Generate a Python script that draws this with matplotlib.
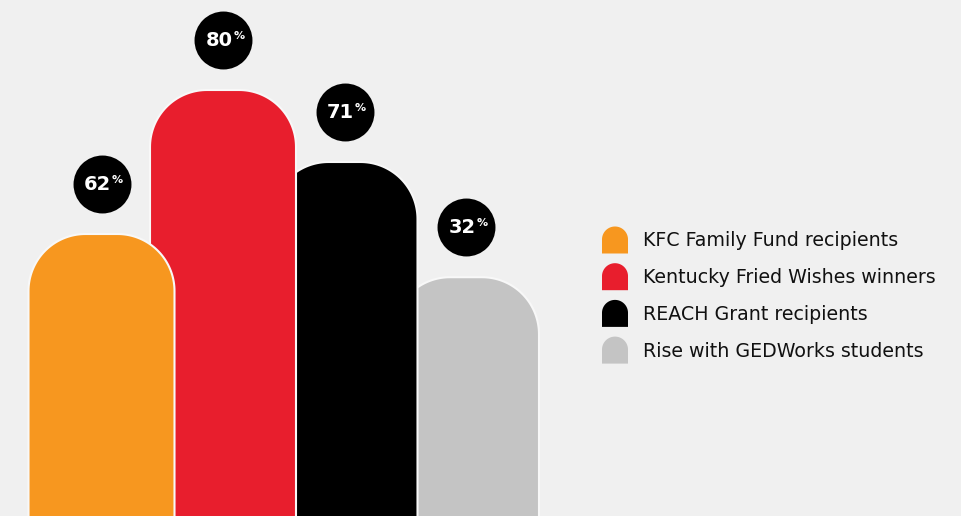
import numpy as np
import matplotlib
matplotlib.use('Agg')
import matplotlib.pyplot as plt
from matplotlib.path import Path
from matplotlib.patches import PathPatch

labels = ['KFC Family Fund recipients', 'Kentucky Fried Wishes winners',
          'REACH Grant recipients', 'Rise with GEDWorks students']
pcts = [62, 80, 71, 32]
# heights as drawn in the original (the grey bar is not to scale there)
drawn = [62, 80, 71, 56.6]
colors = ['#f7971f', '#e81e2d', '#000000', '#c4c4c4']
bg = '#f0f0f0'

W, H = 961, 516
fig = plt.figure(figsize=(W / 100, H / 100), dpi=100, facecolor=bg)
ax = fig.add_axes([0, 0, 1, 1])
ax.set_facecolor(bg)
ax.set_xlim(-101.5 / 121.5, (W - 101.5) / 121.5)
ax.set_ylim(26.75, 91.25)
ax.axis('off')

# px per data unit
sx = 121.5
sy = 8.0
bw = 146 / sx
rad_px = 57
rx, ry = rad_px / sx, rad_px / sy


def arch(x0, x1, top, bottom, rx, ry, n=40):
    t1 = np.linspace(np.pi, np.pi / 2, n)
    t2 = np.linspace(np.pi / 2, 0, n)
    xs = [x0]
    ys = [bottom]
    xs += list(x0 + rx + rx * np.cos(t1))
    ys += list(top - ry + ry * np.sin(t1))
    xs += list(x1 - rx + rx * np.cos(t2))
    ys += list(top - ry + ry * np.sin(t2))
    xs += [x1, x0]
    ys += [bottom, bottom]
    return Path(np.column_stack([xs, ys]))


for i in range(len(pcts)):
    z = 10 - i
    p = arch(i - bw / 2, i + bw / 2, drawn[i], 0, rx, ry)
    ax.add_patch(PathPatch(p, facecolor=colors[i], edgecolor='#f8f8f8',
                           lw=1.5, zorder=z))
    cy = drawn[i] + 50 / sy
    ax.scatter([i], [cy], s=1740, color='black', zorder=20, lw=0)
    ax.annotate(str(pcts[i]), (i, cy), xytext=(7, -0.5), textcoords='offset points',
                ha='right', va='center', color='white', fontsize=14,
                fontweight='bold', family='DejaVu Sans', zorder=21)
    ax.annotate('%', (i, cy), xytext=(7.3, 6.3), textcoords='offset points',
                ha='left', va='top', color='white', fontsize=8,
                fontweight='bold', family='DejaVu Sans', zorder=21)

# legend
lax = fig.add_axes([0, 0, 1, 1])
lax.set_xlim(0, W)
lax.set_ylim(0, H)
lax.axis('off')
lax.patch.set_alpha(0)
for i, lab in enumerate(labels):
    yc = H - (240 + 36.7 * i)
    p = arch(602, 628, yc + 13.5, yc - 13.5, 13, 13)
    lax.add_patch(PathPatch(p, facecolor=colors[i], edgecolor='none'))
    lax.text(643, yc - 1, lab, ha='left', va='center', fontsize=13.7,
             color='#111111', family='DejaVu Sans')

fig.savefig('out.png', dpi=100, facecolor=bg)
